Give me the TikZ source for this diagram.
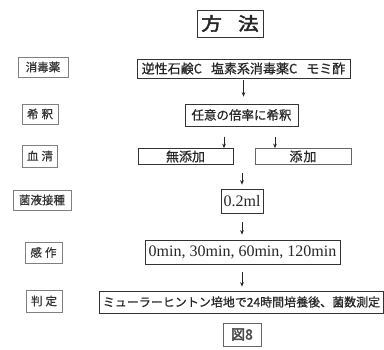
\documentclass[tikz,border=0pt]{standalone}
\usepackage{fontspec}
\usepackage{graphicx}
\setmainfont{Liberation Serif}
\newfontfamily\jp[FakeBold=0.7]{Noto Sans CJK JP}
\newfontfamily\jpb[FakeBold=2.5]{Noto Sans CJK JP}
\usetikzlibrary{arrows.meta}
\begin{document}
\begin{tikzpicture}[x=1pt,y=-1pt,
 main/.style={draw=black!80,line width=0.8pt,inner sep=0pt,text=black!85},
 lab/.style={draw=black!50,line width=0.6pt,inner sep=0pt,text=black!80,font=\jp\fontsize{11.5}{13}\selectfont},
 jpt/.style={font=\jp\fontsize{#1}{#1}\selectfont},
 arr/.style={draw=black!85,line width=1pt,-{Stealth[length=4.5pt,width=3.8pt]}}]
\useasboundingbox (0,0) rectangle (384,350);
% title
\node[main,minimum width=66pt,minimum height=27pt] (title) at (230,23.5)
  {\jpb\fontsize{18}{20}\selectfont\scalebox{1.15}[1]{方\hspace{14pt}法}};
% left labels
\node[lab,minimum width=50pt,minimum height=20pt] (L1) at (43,67) {消毒薬};
\node[lab,minimum width=36pt,minimum height=20pt] (L2) at (40,114) {希\hspace{3pt}釈};
\node[lab,minimum width=35pt,minimum height=22pt] (L3) at (40,156) {血\hspace{3pt}清};
\node[lab,minimum width=58pt,minimum height=20pt] (L4) at (42,200) {菌液接種};
\node[lab,minimum width=37pt,minimum height=21pt] (L5) at (43.5,252.5) {感\hspace{3pt}作};
\node[lab,minimum width=36pt,minimum height=22pt] (L6) at (44,301) {判\hspace{3pt}定};
% main boxes
\node[main,jpt=13,minimum width=213pt,minimum height=19pt] (B1) at (243.5,68.5)
  {逆性石鹸C\hspace{9pt}塩素系消毒薬C\hspace{9pt}モミ酢};
\node[main,jpt=12.5,minimum width=113pt,minimum height=22pt] (B2) at (241.5,115) {任意の倍率に希釈};
\node[main,jpt=13,minimum width=95pt,minimum height=16pt] (N) at (185.5,156.5) {無添加};
\node[main,jpt=13,minimum width=96pt,minimum height=16pt,draw=black!60] (A) at (303,156.5) {添\hspace{1pt}加};
\node[main,font=\fontsize{16}{18}\selectfont,minimum width=42pt,minimum height=24pt] (C) at (242,201) {0.2ml};
\node[main,font=\fontsize{16}{18}\selectfont,minimum width=195pt,minimum height=24pt] (T) at (242.5,252) {0min, 30min, 60min, 120min};
\node[main,jpt=12,minimum width=284pt,minimum height=22pt] (J) at (241.5,302) {ミューラーヒントン培地で24時間培養後、菌数測定};
\node[main,minimum width=38pt,minimum height=23pt,draw=black!60] (F) at (242,334.5)
  {\jpb\fontsize{14}{16}\selectfont\textcolor{black!70}{図8}};
% arrows
\draw[arr,shorten <=2pt,shorten >=7pt] (B1.south) -- (B1.south |- B2.north);
\draw[arr] ([xshift=-17.5pt,yshift=-11pt]B2.south) -- ([xshift=-17.5pt]B2.south |- N.north);
\draw[arr] ([xshift=33.5pt,yshift=-11pt]B2.south) -- ([xshift=33.5pt]B2.south |- A.north);
\draw[arr,shorten <=8.5pt,shorten >=4pt] (C.north |- N.south) -- (C.north);
\draw[arr,shorten <=9pt,shorten >=5pt] (C.south) -- (C.south |- T.north);
\draw[arr,shorten <=8pt,shorten >=4pt] (C.south |- T.south) -- (C.south |- J.north);
\end{tikzpicture}
\end{document}
